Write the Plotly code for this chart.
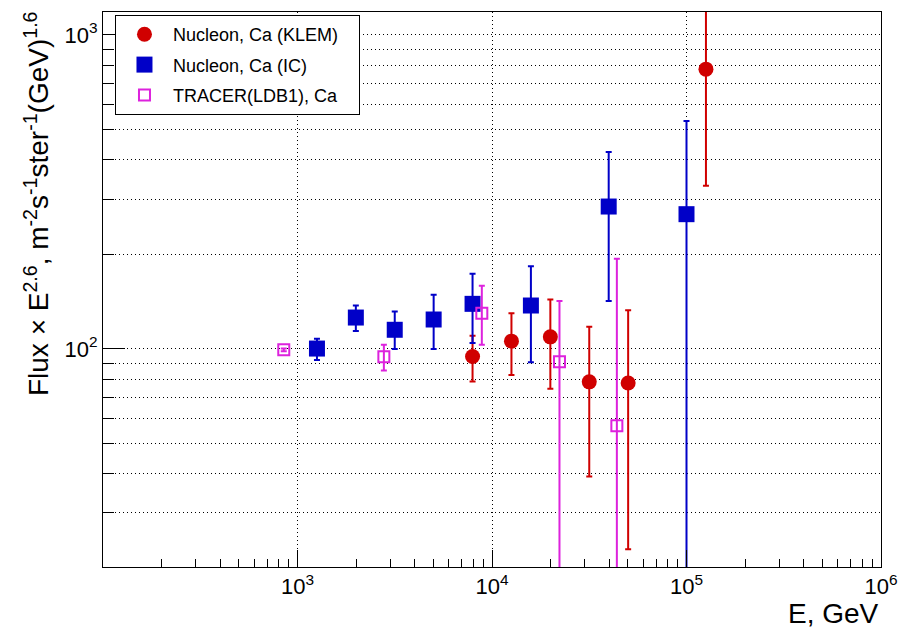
import plotly.graph_objects as go

# Nucleon, Ca (KLEM)
klem_e = [7943, 12589, 19953, 31623, 50119, 125893]
klem_f = [94.5, 105.8, 109.2, 78.5, 77.8, 778]
klem_up = [15.5, 24.1, 34.3, 39.0, 55.0, 700]
klem_dn = [15.8, 23.2, 34.6, 39.3, 54.8, 447]

# Nucleon, Ca (IC)
ic_e = [1259, 1995, 3162, 5012, 7943, 15849, 39811, 100000]
ic_f = [100.2, 125.8, 115.0, 124.0, 139.1, 137.4, 284, 268.5]
ic_up = [7.4, 11.5, 16.4, 24.6, 34.2, 46.0, 140, 263.5]
ic_dn = [8.0, 11.9, 15.2, 24.2, 34.8, 46.7, 142, 263.0]

# TRACER(LDB1), Ca
tr_e = [850, 2780, 8865, 22230, 43850]
tr_f = [99.3, 94.3, 129.9, 91.0, 56.9]
tr_up = [1.0, 8.7, 28.8, 50.9, 136.6]
tr_dn = [1.0, 9.0, 26.9, 85.0, 52.0]

x_major = [1e3, 1e4, 1e5, 1e6]
x_major_text = ["10<sup>3</sup>", "10<sup>4</sup>", "10<sup>5</sup>", "10<sup>6</sup>"]
y_major = [1e2, 1e3]
y_major_text = ["10<sup>2</sup>", "10<sup>3</sup>"]

x_minor = [m * 10 ** p for p in (2, 3, 4, 5) for m in range(2, 10)]
y_minor = [m * 10 ** p for p in (1, 2) for m in range(2, 10)]

FONT = "Liberation Sans, Arial, Helvetica, sans-serif"
RED = "#d00000"
BLUE = "#0000c8"
MAGENTA = "#dd22dd"
PAD = "\u00a0\u00a0\u00a0"  # right padding inside the legend box

fig = go.Figure()


def add_series(x, y, up, dn, name, color, symbol, size, group, open_marker=False):
    marker = dict(symbol=symbol, size=size, color=color)
    if open_marker:
        marker = dict(symbol=symbol, size=size, color="rgba(0,0,0,0)",
                      line=dict(color=color, width=2))
    fig.add_trace(go.Scatter(
        x=x, y=y, mode="markers", name=name + PAD, legendgroup=group,
        marker=marker,
        error_y=dict(type="data", symmetric=False, array=up, arrayminus=dn,
                     color=color, thickness=2, width=3),
    ))


add_series(klem_e, klem_f, klem_up, klem_dn, "Nucleon, Ca (KLEM)", RED,
           "circle", 15, "a")
add_series(ic_e, ic_f, ic_up, ic_dn, "Nucleon, Ca (IC)", BLUE,
           "square", 16, "b")
add_series(tr_e, tr_f, tr_up, tr_dn, "TRACER(LDB1), Ca", MAGENTA,
           "square", 11, "c", open_marker=True)

GRID = dict(gridcolor="#000000", gridwidth=1, griddash="1px,3px")

fig.update_xaxes(
    type="log", range=[2, 6], automargin=False,
    tickmode="array", tickvals=x_major, ticktext=x_major_text,
    ticks="inside", ticklen=17, tickwidth=1, tickcolor="black",
    showline=True, linecolor="black", linewidth=1, mirror=True,
    showgrid=True, **GRID,
    minor=dict(tickmode="array", tickvals=x_minor, ticks="inside",
               ticklen=8, tickwidth=1, tickcolor="black", showgrid=False),
    tickfont=dict(family=FONT, size=22, color="black"),
    zeroline=False,
)
fig.update_yaxes(
    type="log", range=[1.305, 3.073], automargin=False,
    tickmode="array", tickvals=y_major, ticktext=y_major_text,
    ticks="inside", ticklen=22, tickwidth=1, tickcolor="black",
    showline=True, linecolor="black", linewidth=1, mirror=True,
    showgrid=True, **GRID,
    minor=dict(tickmode="array", tickvals=y_minor, ticks="inside",
               ticklen=11, tickwidth=1, tickcolor="black", showgrid=True,
               **GRID),
    tickfont=dict(family=FONT, size=22, color="black"),
    zeroline=False,
)

fig.add_annotation(
    text="Flux × E<sup>2.6</sup>, m<sup>-2</sup>s<sup>-1</sup>ster<sup>-1</sup>(GeV)<sup>1.6</sup>",
    xref="paper", yref="paper", x=-0.085, y=1.006,
    xanchor="center", yanchor="top", textangle=-90, showarrow=False,
    font=dict(family=FONT, size=28, color="black"),
)
fig.add_annotation(
    text="E, GeV", xref="paper", yref="paper", x=1.0, y=-0.053,
    xanchor="right", yanchor="top", showarrow=False,
    font=dict(family=FONT, size=28, color="black"),
)

fig.update_layout(
    width=902, height=632,
    margin=dict(l=103, r=21, t=12, b=65),
    paper_bgcolor="white", plot_bgcolor="white",
    showlegend=True,
    legend=dict(
        x=0.0154, y=0.9946, xanchor="left", yanchor="top",
        bgcolor="white", bordercolor="black", borderwidth=1,
        font=dict(family=FONT, size=18, color="black"),
        tracegroupgap=4, itemwidth=47,
    ),
)

fig.write_html("out.html")
